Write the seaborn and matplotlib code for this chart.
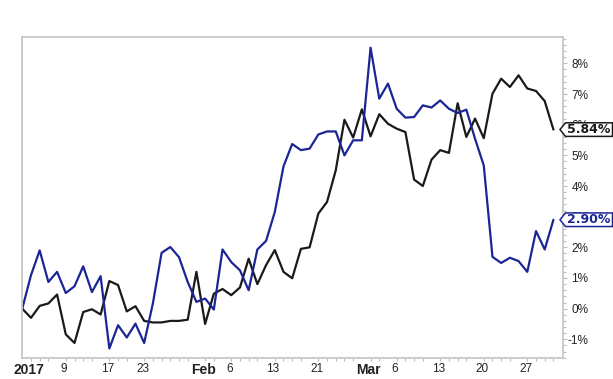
import numpy as np
import pandas as pd
import matplotlib
matplotlib.use("Agg")
import matplotlib.pyplot as plt
import seaborn as sns
from matplotlib.patches import Polygon
from matplotlib.transforms import IdentityTransform, ScaledTranslation
from matplotlib.ticker import MultipleLocator, FixedLocator

# ---------------- data ----------------
holidays = ["2017-01-16", "2017-02-20"]
dates = pd.bdate_range("2017-01-03", "2017-03-31")
dates = dates[~dates.isin(pd.to_datetime(holidays))]

black_vals = [0.00, -0.30, 0.09, 0.17, 0.46, -0.84, -1.12, -0.11, -0.02, -0.19,
              0.90, 0.77, -0.09, 0.08, -0.40, -0.45, -0.45, -0.40, -0.40, -0.36,
              1.20, -0.50, 0.49, 0.64, 0.44, 0.69, 1.63, 0.80, 1.42, 1.91,
              1.20, 0.99, 1.95, 2.00, 3.10, 3.48, 4.51, 6.16, 5.58, 6.50,
              5.62, 6.34, 6.03, 5.87, 5.76, 4.21, 4.00, 4.86, 5.17, 5.08,
              6.70, 5.60, 6.20, 5.56, 7.01, 7.50, 7.23, 7.61, 7.18, 7.10,
              6.77, 5.84]
blue_vals = [0.00, 1.09, 1.90, 0.87, 1.20, 0.51, 0.73, 1.38, 0.54, 1.06,
             -1.30, -0.54, -0.94, -0.49, -1.12, 0.17, 1.82, 2.01, 1.68, 0.87,
             0.22, 0.33, -0.03, 1.93, 1.52, 1.25, 0.60, 1.93, 2.21, 3.15,
             4.64, 5.37, 5.17, 5.22, 5.68, 5.78, 5.78, 5.00, 5.49, 5.49,
             8.51, 6.85, 7.34, 6.52, 6.23, 6.25, 6.63, 6.56, 6.79, 6.52,
             6.38, 6.49, 5.54, 4.67, 1.69, 1.49, 1.66, 1.55, 1.20, 2.53,
             1.93, 2.90]
series_names = ["Series A", "Series B"]
series_colors = ["#1a1a1a", "#1b2696"]

tick_dates = ["2017-01-03", "2017-01-09", "2017-01-17", "2017-01-23", "2017-02-01",
              "2017-02-06", "2017-02-13", "2017-02-21", "2017-03-01", "2017-03-06",
              "2017-03-13", "2017-03-20", "2017-03-27"]
tick_labels = ["2017", "9", "17", "23", "Feb", "6", "13", "21", "Mar", "6", "13", "20", "27"]
bold_labels = {"2017", "Feb", "Mar"}
y_ticks = [-1, 0, 1, 2, 3, 4, 5, 6, 7, 8]

# ---------------- frame ----------------
pos = np.arange(len(dates))
df = pd.DataFrame({
    "pos": np.concatenate([pos, pos]),
    "value": black_vals + blue_vals,
    "series": [series_names[0]] * len(pos) + [series_names[1]] * len(pos),
})

sns.set_style("white")
plt.rcParams["font.family"] = ["Liberation Sans", "DejaVu Sans"]

W, H = 613, 379
fig = plt.figure(figsize=(W / 100, H / 100), dpi=100)
ax = fig.add_axes([22 / W, 1 - 357.7 / H, (563 - 22) / W, (357.7 - 37) / H])

sns.lineplot(data=df, x="pos", y="value", hue="series",
             palette=dict(zip(series_names, series_colors)),
             linewidth=1.6, legend=False, ax=ax)

ax.set_xlim(-0.03, len(pos) - 1 + 1.1)
ax.set_ylim(-1.60, 8.86)
ax.set_xlabel("")
ax.set_ylabel("")

for s in ax.spines.values():
    s.set_color("#c8c8c8")
    s.set_linewidth(1.3)

# x ticks
date_index = {d.strftime("%Y-%m-%d"): i for i, d in enumerate(dates)}
xt = [date_index[d] for d in tick_dates]
ax.set_xticks(xt)
ax.set_xticklabels(tick_labels)
ax.xaxis.set_minor_locator(FixedLocator(pos))
ax.tick_params(axis="x", which="major", length=0, pad=4, colors="#222222")
ax.tick_params(axis="x", which="minor", length=2, width=0.8, color="#bbbbbb", bottom=True)
offset = ScaledTranslation(7 / 100, 0, fig.dpi_scale_trans)
for lbl in ax.get_xticklabels():
    if lbl.get_text() in bold_labels:
        lbl.set_fontweight("bold")
        lbl.set_fontsize(10)
    else:
        lbl.set_fontsize(8.5)
    lbl.set_transform(lbl.get_transform() + offset)

# y ticks on right
ax.yaxis.tick_right()
ax.set_yticks(y_ticks)
ax.set_yticklabels([f"{v}%" for v in y_ticks])
ax.yaxis.set_minor_locator(MultipleLocator(0.2))
ax.tick_params(axis="y", which="major", length=3, width=0.8, color="#bbbbbb",
               pad=17.3 - 3 * 0.72, labelsize=8.5, labelcolor="#222222", right=True)
ax.tick_params(axis="y", which="minor", length=2, width=0.8, color="#bbbbbb", right=True)
for lbl in ax.get_yticklabels():
    lbl.set_horizontalalignment("right")

# end-value tags
fig.canvas.draw()
for vals, col in zip([black_vals, blue_vals], series_colors):
    v = vals[-1]
    yc = ax.transData.transform((0, v))[1]
    hh = 6.8
    pts = [(560, yc), (565.5, yc - hh), (612.5, yc - hh), (612.5, yc + hh), (565.5, yc + hh)]
    fig.add_artist(Polygon(pts, closed=True, facecolor="white", edgecolor=col,
                           linewidth=1.1, transform=IdentityTransform(), zorder=5))
    fig.text(589 / W, yc / H, f"{v:.2f}%", ha="center", va="center",
             fontsize=9, fontweight="bold", color=col,
             family=["DejaVu Sans"], zorder=6)

fig.savefig("out.png", dpi=100)
